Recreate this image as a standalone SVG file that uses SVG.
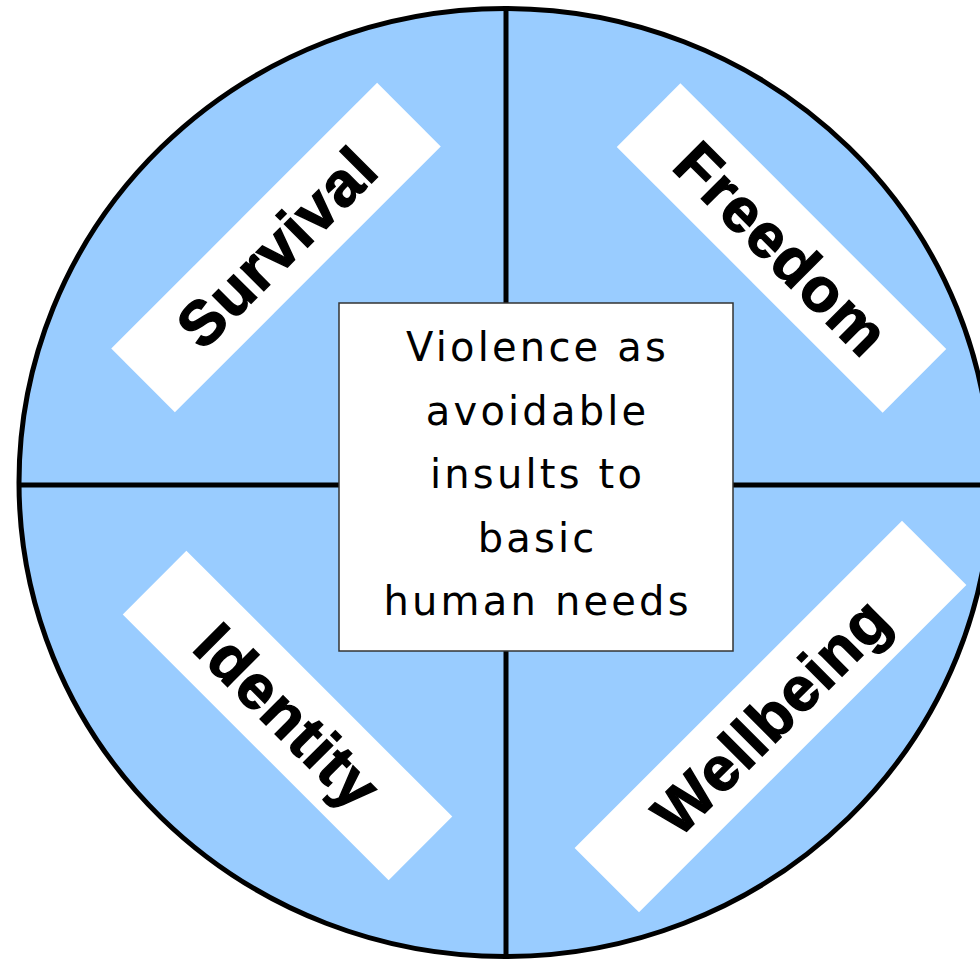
<svg xmlns="http://www.w3.org/2000/svg" width="980" height="960" viewBox="0 0 980 960">
<style>
.band{fill:#ffffff;stroke:none}
.lbl{font-family:"Liberation Sans",Arial,sans-serif;font-weight:bold;font-size:62px;letter-spacing:1.5px;fill:#000;stroke:#000;stroke-width:1.4;text-anchor:middle}
.ctr{font-family:"DejaVu Sans",Verdana,sans-serif;font-size:40px;letter-spacing:3.2px;fill:#000;text-anchor:middle}
.div{stroke:#000;stroke-width:5;fill:none}
</style>
<rect width="980" height="960" fill="#ffffff"/>
<g id="wheel">
<ellipse cx="505" cy="482.5" rx="486" ry="474" fill="#99ccff" stroke="#000" stroke-width="5"/>
</g>
<g id="connectors">
<line class="div" x1="506" y1="8" x2="506" y2="957"/>
<line class="div" x1="19" y1="485" x2="990" y2="485"/>
</g>
<g id="survival" transform="translate(276,247.5) rotate(-45)">
<rect class="band" x="-188" y="-45" width="376" height="90"/>
<text class="lbl" x="1" y="22">Survival</text>
</g>
<g id="freedom" transform="translate(781.5,248) rotate(45)">
<rect class="band" x="-188" y="-45" width="376" height="90"/>
<text class="lbl" x="1" y="22">Freedom</text>
</g>
<g id="identity" transform="translate(287.5,715.5) rotate(45)">
<rect class="band" x="-188" y="-45" width="376" height="90"/>
<text class="lbl" x="1" y="22">Identity</text>
</g>
<g id="wellbeing" transform="translate(770.5,716.5) rotate(-45)">
<rect class="band" x="-231.5" y="-45.5" width="463" height="91"/>
<text class="lbl" x="1" y="22">Wellbeing</text>
</g>
<g id="center">
<rect x="339" y="303" width="394" height="348" fill="#ffffff" stroke="#333" stroke-width="1.5"/>
<text class="ctr" x="537.6" y="361">Violence as</text>
<text class="ctr" x="537.6" y="425">avoidable</text>
<text class="ctr" x="537.6" y="488">insults to</text>
<text class="ctr" x="537.6" y="552">basic</text>
<text class="ctr" x="537.6" y="615">human needs</text>
</g>
</svg>
